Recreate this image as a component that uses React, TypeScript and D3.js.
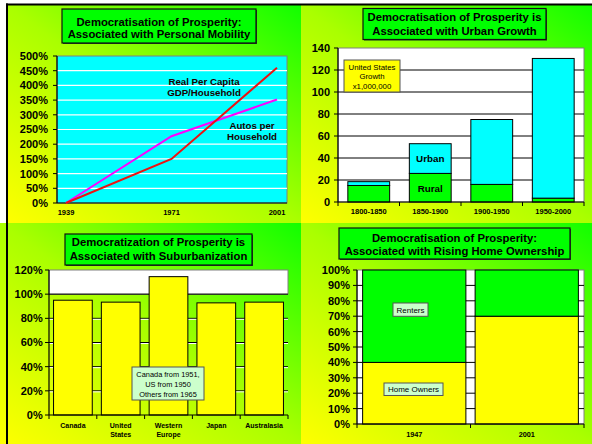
import React from "react";
import * as d3 from "d3";

// ---------- DATA ----------
const mobilityYears = ["1939", "1971", "2001"];
const gdpPerHousehold = [0, 150, 460];
const autosPerHousehold = [0, 227, 352];
const mobilityTicks = [0, 50, 100, 150, 200, 250, 300, 350, 400, 450, 500];

const urbanPeriods = ["1800-1850", "1850-1900", "1900-1950", "1950-2000"];
const ruralGrowth = [15, 26, 16, 3.5];
const urbanGrowth = [3.5, 27, 59, 127];
const urbanTicks = [0, 20, 40, 60, 80, 100, 120, 140];

const suburbRegions = [["Canada"], ["United", "States"], ["Western", "Europe"], ["Japan"], ["Australasia"]];
const suburbShare = [95, 93.4, 114.5, 92.8, 93.4];
const suburbTicks = [0, 20, 40, 60, 80, 100, 120];

const ownershipYears = ["1947", "2001"];
const homeOwners = [40, 70];
const renters = [60, 30];
const ownershipTicks = [0, 10, 20, 30, 40, 50, 60, 70, 80, 90, 100];

const FONT = "'Liberation Sans', Arial, Helvetica, sans-serif";
const GREEN = "#00ff00";
const YELLOW = "#ffff00";
const CYAN = "#00ffff";

function Title({ x, y, w, h, lines, centers }: any) {
  const cx = x + w / 2;
  return (
    <g>
      <rect x={x + 1} y={y + 1} width={w} height={h} fill="#224422" />
      <rect x={x} y={y} width={w} height={h} fill={GREEN} stroke="#111" strokeWidth={1.2} />
      {lines.map((l: string, i: number) => (
        <text key={i} x={cx} y={centers[i] + 4} textAnchor="middle" fontFamily={FONT} fontWeight="bold" fontSize={11.3} fill="#000">
          {l}
        </text>
      ))}
    </g>
  );
}

function NoteBox({ x, y, w, h, fill, lines, centers, size }: any) {
  return (
    <g>
      <rect x={x} y={y} width={w} height={h} fill={fill} stroke="#555" strokeWidth={1} />
      {lines.map((l: string, i: number) => (
        <text key={i} x={x + w / 2} y={centers[i] + size * 0.36} textAnchor="middle" fontFamily={FONT} fontSize={size} fill="#000">
          {l}
        </text>
      ))}
    </g>
  );
}

function YAxis({ scale, ticks, x, fmt, labelX }: any) {
  return (
    <g>
      <line x1={x} x2={x} y1={scale(ticks[ticks.length - 1])} y2={scale(0)} stroke="#000" strokeWidth={1.2} />
      {ticks.map((t: number) => (
        <g key={t}>
          <line x1={x - 4} x2={x} y1={scale(t)} y2={scale(t)} stroke="#000" strokeWidth={1} />
          <text x={labelX} y={scale(t) + 3.9} textAnchor="end" fontFamily={FONT} fontWeight="bold" fontSize={11} fill="#000">
            {fmt(t)}
          </text>
        </g>
      ))}
    </g>
  );
}

export default function App() {
  // Panel 1
  const p1 = { x0: 57, x1: 287, y0: 56, y1: 203 };
  const x1s = d3.scalePoint<string>().domain(mobilityYears).range([66, 277]);
  const y1s = d3.scaleLinear().domain([0, 500]).range([p1.y1, p1.y0]);
  const lineGen = d3
    .line<number>()
    .x((_, i) => x1s(mobilityYears[i]) as number)
    .y((d) => y1s(d));

  // Panel 2
  const p2 = { x0: 338, x1: 584, y0: 48, y1: 202 };
  const x2s = d3.scaleBand<string>().domain(urbanPeriods).range([p2.x0, p2.x1]).paddingInner(0.32).paddingOuter(0.16);
  const y2s = d3.scaleLinear().domain([0, 140]).range([p2.y1, p2.y0]);
  const step2 = x2s.step();

  // Panel 3
  const p3 = { x0: 49, x1: 288, y0: 270, y1: 415 };
  const names3 = suburbRegions.map((r) => r.join(" "));
  const x3s = d3.scaleBand<string>().domain(names3).range([p3.x0, p3.x1]).paddingInner(0.19).paddingOuter(0.095);
  const y3s = d3.scaleLinear().domain([0, 120]).range([p3.y1, p3.y0]);
  const step3 = x3s.step();

  // Panel 4
  const p4 = { x0: 357, x1: 584, y0: 270, y1: 424 };
  const x4s = d3.scaleBand<string>().domain(ownershipYears).range([p4.x0, p4.x1]).paddingInner(0.082).paddingOuter(0.05);
  const y4s = d3.scaleLinear().domain([0, 100]).range([p4.y1, p4.y0]);
  const mid4 = ((x4s(ownershipYears[0]) as number) + x4s.bandwidth() + (x4s(ownershipYears[1]) as number)) / 2;
  const ticks4 = [p4.x0, mid4, p4.x1];

  const pct = (v: number) => `${v}%`;
  const num = (v: number) => `${v}`;

  return (
    <div style={{ position: "fixed", left: 0, top: 0 }}>
      <svg width={592} height={444} style={{ display: "block" }}>
        <defs>
          <linearGradient id="bg" x1="0" y1="1" x2="1" y2="0">
            <stop offset="0" stopColor="#ffff00" />
            <stop offset="0.5" stopColor="#aaff00" />
            <stop offset="1" stopColor="#11ff00" />
          </linearGradient>
        </defs>
        <rect x={0} y={0} width={592} height={444} fill="#fff" />
        {/* panel backgrounds */}
        <rect x={7} y={5} width={294} height={218} fill="url(#bg)" />
        <rect x={301} y={5} width={291} height={218} fill="url(#bg)" />
        <rect x={0} y={223} width={301} height={221} fill="url(#bg)" />
        <rect x={301} y={223} width={291} height={221} fill="url(#bg)" />
        {/* black frame lines */}
        <rect x={6} y={3.5} width={586} height={2} fill="#000" />
        <rect x={6} y={3.5} width={2} height={440.5} fill="#000" />

        {/* ---------- Panel 1 ---------- */}
        <Title x={62} y={9} w={194} h={34} lines={["Democratisation of Prosperity:", "Associated with Personal Mobility"]} centers={[21.7, 34.3]} />
        <rect x={p1.x0} y={p1.y0} width={p1.x1 - p1.x0} height={p1.y1 - p1.y0} fill={CYAN} stroke="#808080" strokeWidth={1} />
        {mobilityTicks.slice(1, -1).map((t) => (
          <line key={t} x1={p1.x0} x2={p1.x1} y1={y1s(t)} y2={y1s(t)} stroke="#fff" strokeWidth={1.2} />
        ))}
        <line x1={p1.x0} x2={p1.x1} y1={p1.y1} y2={p1.y1} stroke="#000" strokeWidth={1.2} />
        <YAxis scale={y1s} ticks={mobilityTicks} x={p1.x0} fmt={pct} labelX={48} />
        <path d={lineGen(autosPerHousehold) as string} fill="none" stroke="#ff00ff" strokeWidth={2} />
        <path d={lineGen(gdpPerHousehold) as string} fill="none" stroke="#ee1111" strokeWidth={2} />
        {mobilityYears.map((yr) => (
          <text key={yr} x={x1s(yr)} y={215.4} textAnchor="middle" fontFamily={FONT} fontWeight="bold" fontSize={7.5}>
            {yr}
          </text>
        ))}
        {[["Real Per Capita", 81], ["GDP/Household", 92.3]].map(([t, cy]: any) => (
          <text key={t} x={204} y={cy + 3.5} textAnchor="middle" fontFamily={FONT} fontWeight="bold" fontSize={9.7} fill="#1a0000">
            {t}
          </text>
        ))}
        {[["Autos per", 125], ["Household", 136.3]].map(([t, cy]: any) => (
          <text key={t} x={252} y={cy + 3.5} textAnchor="middle" fontFamily={FONT} fontWeight="bold" fontSize={9.7} fill="#1a0000">
            {t}
          </text>
        ))}

        {/* ---------- Panel 2 ---------- */}
        <Title x={363} y={8.5} w={183} h={31} lines={["Democratisation of Prosperity is", "Associated with Urban Growth"]} centers={[17.3, 31]} />
        <rect x={p2.x0} y={p2.y0} width={p2.x1 - p2.x0} height={p2.y1 - p2.y0} fill="#fff" stroke="#808080" strokeWidth={1} />
        {urbanTicks.slice(1, -1).map((t) => (
          <line key={t} x1={p2.x0} x2={p2.x1} y1={y2s(t)} y2={y2s(t)} stroke="#000" strokeWidth={1} />
        ))}
        {urbanPeriods.map((c, i) => {
          const bx = x2s(c) as number;
          const bw = x2s.bandwidth();
          return (
            <g key={c}>
              <rect x={bx} y={y2s(ruralGrowth[i])} width={bw} height={y2s(0) - y2s(ruralGrowth[i])} fill={GREEN} stroke="#000" strokeWidth={1} />
              <rect
                x={bx}
                y={y2s(ruralGrowth[i] + urbanGrowth[i])}
                width={bw}
                height={y2s(ruralGrowth[i]) - y2s(ruralGrowth[i] + urbanGrowth[i])}
                fill={CYAN}
                stroke="#000"
                strokeWidth={1}
              />
              <text x={bx + bw / 2} y={211.7 + 2.7} textAnchor="middle" fontFamily={FONT} fontWeight="bold" fontSize={7.5}>
                {c}
              </text>
            </g>
          );
        })}
        <line x1={p2.x0} x2={p2.x1} y1={p2.y1} y2={p2.y1} stroke="#000" strokeWidth={1.2} />
        {d3.range(urbanPeriods.length + 1).map((i) => (
          <line key={i} x1={p2.x0 + i * step2} x2={p2.x0 + i * step2} y1={p2.y1} y2={p2.y1 + 4} stroke="#000" strokeWidth={1} />
        ))}
        <YAxis scale={y2s} ticks={urbanTicks} x={p2.x0} fmt={num} labelX={330} />
        <text x={(x2s(urbanPeriods[1]) as number) + x2s.bandwidth() / 2} y={158 + 3.6} textAnchor="middle" fontFamily={FONT} fontWeight="bold" fontSize={9.8}>
          Urban
        </text>
        <text x={(x2s(urbanPeriods[1]) as number) + x2s.bandwidth() / 2} y={188 + 3.6} textAnchor="middle" fontFamily={FONT} fontWeight="bold" fontSize={9.8}>
          Rural
        </text>
        <NoteBox x={344} y={60} w={56} h={32} fill={YELLOW} lines={["United States", "Growth", "x1,000,000"]} centers={[66.7, 76, 86]} size={7.8} />

        {/* ---------- Panel 3 ---------- */}
        <Title x={65} y={234} w={187} h={31} lines={["Democratization of Prosperity is", "Associated with Suburbanization"]} centers={[242, 255.5]} />
        <rect x={p3.x0} y={p3.y0} width={p3.x1 - p3.x0} height={y3s(100) - p3.y0} fill="#fff" stroke="#808080" strokeWidth={1} />
        {suburbTicks.slice(1, -1).map((t) => (
          <g key={t}>
            <line x1={p3.x0} x2={p3.x1} y1={y3s(t)} y2={y3s(t)} stroke="#000" strokeWidth={1} />
            {t < 100 && <line x1={p3.x0} x2={p3.x1} y1={y3s(t) + 1} y2={y3s(t) + 1} stroke="#fff" strokeWidth={1} />}
          </g>
        ))}
        {names3.map((c, i) => {
          const bx = x3s(c) as number;
          const bw = x3s.bandwidth();
          return (
            <g key={c}>
              <rect x={bx} y={y3s(suburbShare[i])} width={bw} height={y3s(0) - y3s(suburbShare[i])} fill={YELLOW} stroke="#000" strokeWidth={1} />
              {suburbRegions[i].map((l, j) => (
                <text key={l} x={bx + bw / 2} y={425.3 + j * 9 + 2.5} textAnchor="middle" fontFamily={FONT} fontWeight="bold" fontSize={7}>
                  {l}
                </text>
              ))}
            </g>
          );
        })}
        <line x1={p3.x0} x2={p3.x1} y1={p3.y1} y2={p3.y1} stroke="#000" strokeWidth={1.2} />
        {d3.range(names3.length + 1).map((i) => (
          <line key={i} x1={p3.x0 + i * step3} x2={p3.x0 + i * step3} y1={p3.y1} y2={p3.y1 + 4} stroke="#000" strokeWidth={1} />
        ))}
        <YAxis scale={y3s} ticks={suburbTicks} x={p3.x0} fmt={pct} labelX={42.7} />
        <NoteBox x={132} y={367} w={72} h={33} fill="#ccffcc" lines={["Canada from 1951,", "US from 1950", "Others from 1965"]} centers={[374.7, 384.7, 394.3]} size={7.4} />

        {/* ---------- Panel 4 ---------- */}
        <Title x={339} y={228} w={231} h={31} lines={["Democratisation of Prosperity:", "Associated with Rising Home Ownership"]} centers={[237.7, 251.3]} />
        <rect x={p4.x0} y={p4.y0} width={p4.x1 - p4.x0} height={p4.y1 - p4.y0} fill="#fff" stroke="#808080" strokeWidth={1} />
        {ownershipTicks.slice(1, -1).map((t) => (
          <line key={t} x1={p4.x0} x2={p4.x1} y1={y4s(t)} y2={y4s(t)} stroke="#000" strokeWidth={1} />
        ))}
        {ownershipYears.map((c, i) => {
          const bx = x4s(c) as number;
          const bw = x4s.bandwidth();
          return (
            <g key={c}>
              <rect x={bx} y={y4s(homeOwners[i])} width={bw} height={y4s(0) - y4s(homeOwners[i])} fill={YELLOW} stroke="#000" strokeWidth={1} />
              <rect
                x={bx}
                y={y4s(homeOwners[i] + renters[i])}
                width={bw}
                height={y4s(homeOwners[i]) - y4s(homeOwners[i] + renters[i])}
                fill={GREEN}
                stroke="#000"
                strokeWidth={1}
              />
              <text x={bx + bw / 2} y={434 + 2.6} textAnchor="middle" fontFamily={FONT} fontWeight="bold" fontSize={7.3}>
                {c}
              </text>
            </g>
          );
        })}
        <line x1={p4.x0} x2={p4.x1} y1={p4.y1} y2={p4.y1} stroke="#000" strokeWidth={1.2} />
        {ticks4.map((tx, i) => (
          <line key={i} x1={tx} x2={tx} y1={p4.y1} y2={p4.y1 + 4} stroke="#000" strokeWidth={1} />
        ))}
        <YAxis scale={y4s} ticks={ownershipTicks} x={p4.x0} fmt={pct} labelX={350} />
        <NoteBox x={393} y={303} w={35} h={13.3} fill="#ccffcc" lines={["Renters"]} centers={[309.7]} size={8} />
        <NoteBox x={384} y={383} w={59} h={12.5} fill="#ccffcc" lines={["Home Owners"]} centers={[389.2]} size={8} />
      </svg>
    </div>
  );
}
